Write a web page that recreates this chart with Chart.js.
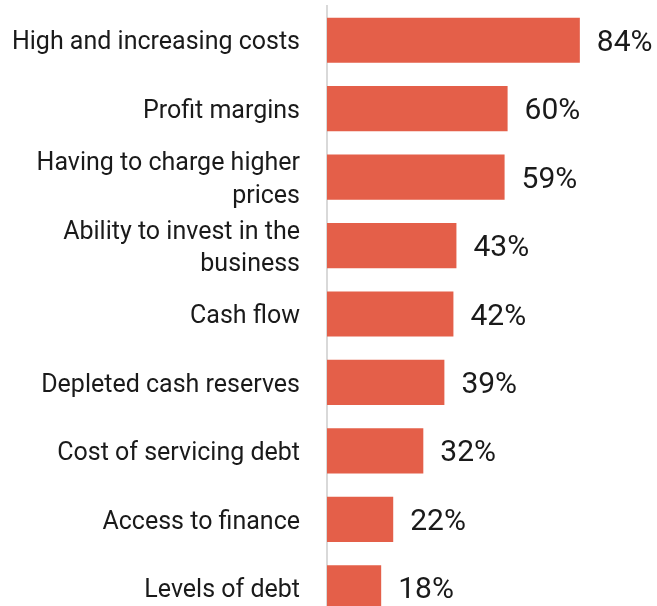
<!DOCTYPE html>
<html lang="en">
<head>
    <meta charset="UTF-8">
    <title>Business concerns</title>
    <script src="https://cdn.jsdelivr.net/npm/chart.js"></script>
    <style>
        html, body {
            margin: 0;
            padding: 0;
            background: #ffffff;
            overflow: hidden;
        }
        .chart-container {
            position: relative;
            width: 657px;
            height: 622px;
        }
    </style>
</head>
<body>

<div class="chart-container">
    <canvas id="grafico"></canvas>
</div>

<script>
    const categorias = [
        'High and increasing costs',
        'Profit margins',
        ['Having to charge higher', 'prices'],
        ['Ability to invest in the', 'business'],
        'Cash flow',
        'Depleted cash reserves',
        'Cost of servicing debt',
        'Access to finance',
        'Levels of debt'
    ];
    const valores = [84, 60, 59, 43, 42, 39, 32, 22, 18];

    // draws the "84%" labels at the end of each bar
    const rotulosValor = {
        id: 'rotulosValor',
        afterDatasetsDraw(chart) {
            const ctx = chart.ctx;
            const meta = chart.getDatasetMeta(0);
            ctx.save();
            ctx.font = '30px Roboto';
            ctx.fillStyle = '#1a1a1a';
            ctx.textAlign = 'left';
            ctx.textBaseline = 'middle';
            meta.data.forEach((bar, i) => {
                ctx.fillText(valores[i] + '%', bar.x + 17, bar.y + 3);
            });
            ctx.restore();
        }
    };

    new Chart(document.getElementById('grafico'), {
        type: 'bar',
        data: {
            labels: categorias,
            datasets: [{
                data: valores,
                backgroundColor: '#E45F49',
                borderWidth: 0,
                barPercentage: 0.66,
                categoryPercentage: 1
            }]
        },
        options: {
            indexAxis: 'y',
            responsive: true,
            maintainAspectRatio: false,
            animation: false,
            layout: {
                padding: { top: 6, right: 29, bottom: 0, left: 0 }
            },
            plugins: {
                legend: { display: false },
                tooltip: { enabled: false }
            },
            scales: {
                x: {
                    display: false,
                    min: 0,
                    max: 100
                },
                y: {
                    afterFit(scale) {
                        scale.width = 327;
                        // no extra room above/below for the labels
                        scale.paddingTop = 0;
                        scale.paddingBottom = 0;
                    },
                    grid: { display: false, drawTicks: false },
                    border: { display: true, color: '#d9d9d9', width: 2 },
                    ticks: {
                        padding: 27,
                        labelOffset: 3,
                        color: '#1a1a1a',
                        font: { family: 'Roboto', size: 25, lineHeight: 1.3 }
                    }
                }
            }
        },
        plugins: [rotulosValor]
    });
</script>

</body>
</html>
